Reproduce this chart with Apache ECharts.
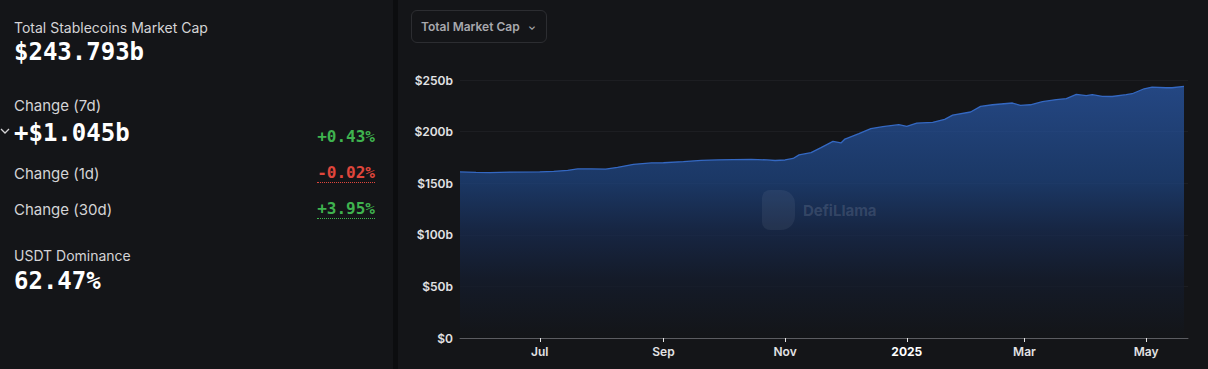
<!DOCTYPE html>
<html><head><meta charset="utf-8">
<script src="https://cdn.jsdelivr.net/npm/echarts@6/dist/echarts.min.js"></script>
<style>
html,body{margin:0;padding:0;width:1208px;height:369px;background:#0c0d0f;overflow:hidden;font-family:Inter,"Noto Sans",sans-serif;}
#left{position:absolute;left:0;top:0;width:393px;height:369px;background:#141518;}
#right{position:absolute;left:398px;top:0;width:810px;height:369px;background:#141518;}
#chart{position:absolute;left:0;top:0;width:1208px;height:369px;}
.t{position:absolute;white-space:nowrap;}
.lbl{color:#d4d4d6;font-size:14px;line-height:20px;left:14px;}
.lbl2{color:#d4d4d6;font-size:15px;line-height:20px;left:14px;}
.big{font-family:"DejaVu Sans Mono",monospace;font-weight:bold;font-size:24px;line-height:28px;color:#ffffff;left:14px;}
.pct{font-family:"DejaVu Sans Mono",monospace;font-weight:bold;font-size:16px;line-height:20px;right:18px;}
.green{color:#3fb34f;}
.red{color:#e0463c;}
.dot{border-bottom:1px dotted currentColor;line-height:18px;}
#dd{position:absolute;left:411px;top:10px;width:136px;height:33px;border:1px solid #2c2d31;border-radius:6px;box-sizing:border-box;color:#a7a8ad;font-size:12px;font-weight:600;line-height:31px;padding-left:9px;}
#dd span{position:absolute;right:10px;top:0;font-size:10px;}
#chev{position:absolute;left:0;top:126px;width:10px;height:10px;}
</style></head>
<body>
<div id="left">
  <div class="t lbl" style="top:18px">Total Stablecoins Market Cap</div>
  <div class="t big" style="top:38px">$243.793b</div>
  <div class="t lbl2" style="top:96px">Change (7d)</div>
  <svg id="chev" viewBox="0 0 10 10"><path d="M1 3 L5 7 L9 3" stroke="#d4d4d6" stroke-width="1.3" fill="none"/></svg>
  <div class="t big" style="top:119px">+$1.045b</div>
  <div class="t pct green" style="top:127px">+0.43%</div>
  <div class="t lbl2" style="top:164px">Change (1d)</div>
  <div class="t pct red dot" style="top:164px">-0.02%</div>
  <div class="t lbl2" style="top:200px">Change (30d)</div>
  <div class="t pct green dot" style="top:200px">+3.95%</div>
  <div class="t lbl" style="top:246px">USDT Dominance</div>
  <div class="t big" style="top:267px">62.47%</div>
</div>
<div id="right"></div>
<div id="chart"></div>
<div id="dd">Total Market Cap<span>&#8964;</span></div>
<script>
// ---- data ----
const dates = ['2024-05-22','2024-05-30','2024-06-06','2024-06-16','2024-07-01','2024-07-08','2024-07-15','2024-07-20','2024-07-27','2024-08-03','2024-08-09','2024-08-17','2024-08-26','2024-09-01','2024-09-11','2024-09-20','2024-09-28','2024-10-06','2024-10-15','2024-10-23','2024-10-27','2024-11-01','2024-11-05','2024-11-08','2024-11-14','2024-11-19','2024-11-25','2024-11-29','2024-12-01','2024-12-08','2024-12-14','2024-12-20','2024-12-28','2025-01-01','2025-01-06','2025-01-14','2025-01-20','2025-01-24','2025-02-02','2025-02-07','2025-02-13','2025-02-23','2025-02-27','2025-03-04','2025-03-10','2025-03-17','2025-03-22','2025-03-27','2025-04-01','2025-04-04','2025-04-09','2025-04-14','2025-04-21','2025-04-24','2025-04-30','2025-05-04','2025-05-11','2025-05-14','2025-05-20'];
const marketCap = [160.9,160.5,160.3,160.8,161.0,161.5,162.5,163.8,163.8,163.6,165.4,168.3,169.6,169.8,171.0,172.2,172.6,172.9,173.0,172.6,172.0,172.5,174.0,177.5,179.6,184.5,190.6,189.0,192.8,198.0,202.9,204.8,206.7,205.1,208.3,209.0,211.9,216.0,219.0,224.5,226.0,227.7,225.4,226.0,229.0,231.0,231.9,236.0,234.8,235.8,234.1,234.0,235.8,236.7,241.5,243.1,242.5,242.5,243.8];
const xTickDates = ['2024-07-01','2024-09-01','2024-11-01','2025-01-01','2025-03-01','2025-05-01'];
const xTickLabels = ['Jul','Sep','Nov','2025','Mar','May'];
const xRange = ['2024-05-22','2025-05-22'];
const yTicks = [0,50,100,150,200,250];

function ts(s){const p=s.split('-').map(Number);return Date.UTC(p[0],p[1]-1,p[2]);}
const seriesData = dates.map((d,i)=>[ts(d), marketCap[i]]);
const tickTs = xTickDates.map(ts);

const chart = echarts.init(document.getElementById('chart'), null, {renderer:'svg'});
chart.setOption({
  backgroundColor:'transparent',
  animation:false,
  grid:{left:460,right:20,top:80,bottom:31,containLabel:false},
  xAxis:{
    type:'value',
    min:ts(xRange[0]), max:ts(xRange[1]),
    axisLine:{show:true,lineStyle:{color:'#5b5c61',width:1}},
    axisTick:{show:true,customValues:tickTs,length:4,lineStyle:{color:'#e6e6e6',width:1}},
    axisLabel:{
      customValues:tickTs,
      color:'#e2e2e4',fontSize:12,fontWeight:600,fontFamily:'Inter',margin:7,
      formatter:function(v){
        const i=tickTs.indexOf(v);
        if(i<0) return '';
        const l=xTickLabels[i];
        return l==='2025' ? '{b|'+l+'}' : l;
      },
      rich:{b:{fontWeight:'bold',color:'#ffffff',fontSize:12,fontFamily:'Inter'}}
    },
    splitLine:{show:false}
  },
  yAxis:{
    type:'value',min:yTicks[0],max:yTicks[yTicks.length-1],interval:50,
    axisLine:{show:false},axisTick:{show:false},
    axisLabel:{color:'#e2e2e4',fontSize:12,fontWeight:600,fontFamily:'Inter',margin:7,
      formatter:function(v){return '$'+v+(v===0?'':'b');}},
    splitLine:{show:true,lineStyle:{color:'#1d1e22',width:1}}
  },
  graphic:[
    {type:'rect',left:762,top:190,shape:{width:33,height:40,r:[8,14,14,8]},style:{fill:'rgba(160,170,190,0.10)'},z:10},
    {type:'text',left:803,top:203,style:{text:'DefiLlama',fill:'rgba(170,180,200,0.20)',font:'bold 15px Inter'},z:10}
  ],
  series:[{
    type:'line',
    data:seriesData,
    showSymbol:false,
    smooth:false,
    lineStyle:{color:'#3468c2',width:1.3},
    areaStyle:{color:new echarts.graphic.LinearGradient(0,0,0,1,[
      {offset:0,color:'#2b5cb0'},
      {offset:0.37,color:'#1e4787'},
      {offset:0.57,color:'#182d55'},
      {offset:0.77,color:'#141d30'},
      {offset:1,color:'#131518'}
    ])}
  }]
});
</script>
</body></html>
